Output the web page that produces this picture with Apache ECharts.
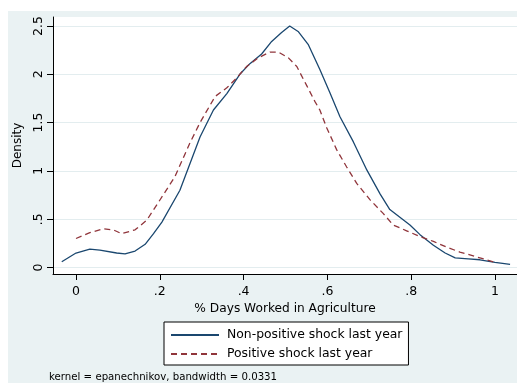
<!DOCTYPE html>
<html>
<head>
<meta charset="utf-8">
<script src="https://cdn.jsdelivr.net/npm/echarts@6/dist/echarts.min.js"></script>
<style>
html,body{margin:0;padding:0;background:#fff;}
#bg{position:absolute;left:8px;top:11px;width:509px;height:372px;background:#EAF2F3;}
#chart{position:absolute;left:0;top:0;width:517px;height:383px;}
</style>
</head>
<body>
<div id="bg"></div>
<div id="chart"></div>
<script>
// Non-positive shock last year (solid navy)
const blueX = [-0.034, 0.0, 0.033, 0.057, 0.097, 0.117, 0.141, 0.165, 0.185, 0.205, 0.248, 0.296, 0.328, 0.360, 0.391, 0.415, 0.443, 0.467, 0.490, 0.510, 0.531, 0.554, 0.582, 0.606, 0.630, 0.662, 0.694, 0.726, 0.749, 0.773, 0.797, 0.821, 0.853, 0.881, 0.905, 0.936, 0.964, 1.0, 1.036];
const blueY = [0.06, 0.15, 0.19, 0.18, 0.15, 0.14, 0.17, 0.24, 0.35, 0.47, 0.80, 1.35, 1.63, 1.80, 2.0, 2.11, 2.21, 2.34, 2.43, 2.50, 2.44, 2.31, 2.05, 1.81, 1.56, 1.30, 1.01, 0.76, 0.60, 0.52, 0.44, 0.34, 0.23, 0.15, 0.10, 0.09, 0.08, 0.054, 0.033];
// Positive shock last year (dashed maroon)
const redX = [0.0, 0.033, 0.065, 0.089, 0.109, 0.141, 0.169, 0.208, 0.236, 0.272, 0.296, 0.332, 0.360, 0.383, 0.407, 0.435, 0.463, 0.483, 0.507, 0.527, 0.551, 0.570, 0.582, 0.598, 0.622, 0.646, 0.670, 0.702, 0.733, 0.757, 0.789, 0.821, 0.853, 0.885, 0.916, 0.948, 0.980, 1.0];
const redY = [0.30, 0.36, 0.40, 0.39, 0.35, 0.39, 0.49, 0.75, 0.94, 1.29, 1.50, 1.77, 1.86, 1.96, 2.08, 2.17, 2.23, 2.23, 2.17, 2.08, 1.88, 1.72, 1.63, 1.45, 1.22, 1.04, 0.87, 0.70, 0.56, 0.44, 0.38, 0.32, 0.27, 0.21, 0.16, 0.12, 0.08, 0.054];

const xTicks = [0, 0.2, 0.4, 0.6, 0.8, 1];
const xTickLabels = ["0", ".2", ".4", ".6", ".8", "1"];
const yTicks = [0, 0.5, 1, 1.5, 2, 2.5];
const yTickLabels = ["0", ".5", "1", "1.5", "2", "2.5"];

const seriesNames = ["Non-positive shock last year", "Positive shock last year"];
const xTitle = "% Days Worked in Agriculture";
const yTitle = "Density";
const note = "kernel = epanechnikov, bandwidth = 0.0331";

const FONT = "DejaVu Sans";

function pairs(xs, ys) { return xs.map((x, i) => [x, ys[i]]); }
function lookup(ticks, labels, v) {
  for (let i = 0; i < ticks.length; i++) if (Math.abs(ticks[i] - v) < 1e-6) return labels[i];
  return "";
}

const chart = echarts.init(document.getElementById('chart'), null, {renderer: 'canvas'});
chart.setOption({
  animation: false,
  textStyle: {fontFamily: FONT},
  grid: {left: 53, right: 0, top: 17, bottom: 109, show: true, backgroundColor: '#ffffff', borderWidth: 0},
  xAxis: {
    type: 'value', min: -0.0549, max: 1.0525,
    name: xTitle, nameLocation: 'middle', nameGap: 21,
    nameTextStyle: {fontFamily: FONT, fontSize: 12.2, color: '#000'},
    axisLine: {show: true, onZero: false, lineStyle: {color: '#000', width: 1}},
    axisTick: {show: true, length: 6, customValues: xTicks, lineStyle: {color: '#000'}},
    axisLabel: {customValues: xTicks, margin: 11, fontFamily: FONT, fontSize: 12.5, color: '#000',
      formatter: v => lookup(xTicks, xTickLabels, v)},
    splitLine: {show: false}
  },
  yAxis: {
    type: 'value', min: -0.0673, max: 2.593,
    name: yTitle, nameLocation: 'middle', nameGap: 24, nameRotate: 90,
    nameTextStyle: {fontFamily: FONT, fontSize: 12, color: '#000'},
    axisLine: {show: true, onZero: false, lineStyle: {color: '#000', width: 1}},
    axisTick: {show: true, length: 6, customValues: yTicks, lineStyle: {color: '#000'}},
    axisLabel: {customValues: yTicks, rotate: 90, margin: 8, fontFamily: FONT, fontSize: 12.5, color: '#000',
      formatter: v => lookup(yTicks, yTickLabels, v)},
    splitLine: {show: true, lineStyle: {color: '#E3EDEF', width: 1}}
  },
  legend: {
    orient: 'vertical', left: 164, top: 322,
    padding: [7, 6, 5, 6], itemGap: 7, itemWidth: 48, itemHeight: 12,
    borderColor: '#000', borderWidth: 1, borderRadius: 0, backgroundColor: '#fff',
    itemStyle: {opacity: 0},
    textStyle: {fontFamily: FONT, fontSize: 12.4, color: '#000', padding: [0, 0, 0, 3]},
    data: seriesNames
  },
  graphic: [{
    type: 'text', left: 49, top: 372,
    style: {text: note, fontFamily: FONT, fontSize: 10.2, fill: '#000'}
  }],
  series: [
    {name: seriesNames[0], type: 'line', data: pairs(blueX, blueY), showSymbol: false, symbol: 'none',
      smooth: false, lineStyle: {color: '#1A476F', width: 1.3, type: 'solid'}, itemStyle: {color: '#1A476F'}},
    {name: seriesNames[1], type: 'line', data: pairs(redX, redY), showSymbol: false, symbol: 'none',
      smooth: false, lineStyle: {color: '#90353B', width: 1.3, type: [6, 4]}, itemStyle: {color: '#90353B'}}
  ]
});
</script>
</body>
</html>
